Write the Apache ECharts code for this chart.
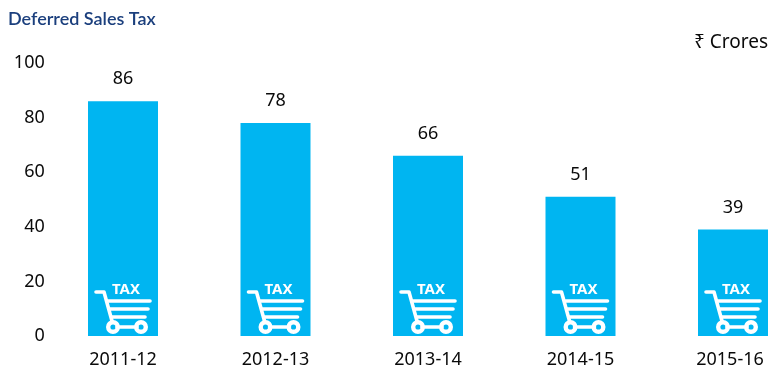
<!DOCTYPE html>
<html><head><meta charset="utf-8">
<style>html,body{margin:0;padding:0;background:#fff}#c{width:780px;height:382px}</style>
<script src="https://cdn.jsdelivr.net/npm/echarts@6/dist/echarts.min.js"></script>
</head><body><div id="c"></div>
<script>
const categories = ['2011-12','2012-13','2013-14','2014-15','2015-16'];
const values = [86,78,66,51,39];
const titleText = 'Deferred Sales Tax';
const unitText = '₹ Crores';
const iconText = 'TAX';
const font = '"Noto Sans", sans-serif';
const barColor = '#00b5f1';
const ink = '#0a0a0a';

function cartIcon(params, api){
  const p = api.coord([api.value(0), 0]);
  const x = p[0], y = p[1];
  const white = {stroke:'#fff', fill:'none', lineWidth:3.6, lineCap:'round', lineJoin:'round'};
  const row = (a,b,dy)=>({type:'line', shape:{x1:x+a,y1:y+dy,x2:x+b,y2:y+dy}, style:white});
  const wheel = dx=>({type:'circle', shape:{cx:x+dx,cy:y-9,r:4.8}, style:{stroke:'#fff',fill:'none',lineWidth:4.4}});
  return {type:'group', silent:true, children:[
    {type:'polyline', shape:{points:[[x-27,y-44],[x-19,y-44],[x-11,y-15]]}, style:white},
    row(-15,27,-35), row(-13,25,-27), row(-11,22,-19),
    row(-6,14,-9), wheel(-10), wheel(18),
    {type:'text', style:{x:x+3,y:y-46,text:iconText,fill:'#fff',align:'center',verticalAlign:'middle',
      font:'bold 15px "Noto Sans", sans-serif'}}
  ]};
}

const chart = echarts.init(document.getElementById('c'), null, {renderer:'canvas'});
chart.setOption({
  animation:false,
  backgroundColor:'#fff',
  title:[
    {text:titleText,left:3,top:5,textStyle:{fontFamily:'Lato, sans-serif',fontSize:18,fontWeight:600,color:'#1b3f7d'}},
    {text:unitText,right:7,top:28,textStyle:{fontFamily:font,fontSize:19,fontWeight:'normal',color:ink}}
  ],
  grid:{left:46.75,top:63,width:762.5,height:273,outerBoundsMode:'none'},
  xAxis:{type:'category',data:categories,
    axisLine:{show:false},axisTick:{show:false},
    axisLabel:{fontFamily:font,fontSize:18,color:ink,margin:15,interval:0,
      formatter:(v,i)=> i===categories.length-1 ? '{s|'+v+'}' : v,
      rich:{s:{fontFamily:font,fontSize:18,color:ink,padding:[0,6,0,0]}}}},
  yAxis:{type:'value',min:0,max:100,interval:20,
    axisLine:{show:false},axisTick:{show:false},splitLine:{show:false},
    axisLabel:{fontFamily:font,fontSize:18,color:ink,margin:2,align:'right',padding:[0,0,2,0]}},
  series:[
    {type:'bar',data:values,barWidth:70,itemStyle:{color:barColor},
     label:{show:true,position:'top',distance:13,fontFamily:font,fontSize:18,color:ink}},
    {type:'custom',data:categories.map((c,i)=>[i]),encode:{x:0},renderItem:cartIcon,z:5,clip:false}
  ]
});
</script></body></html>
